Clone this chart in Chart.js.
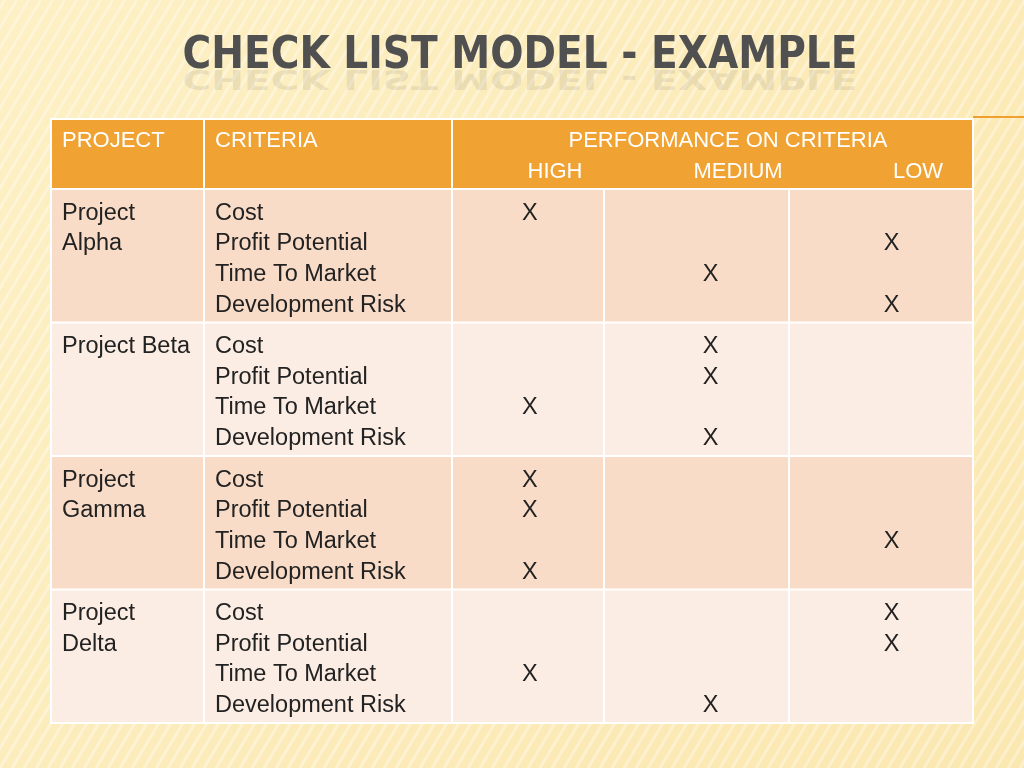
<!DOCTYPE html>
<html><head><meta charset="utf-8">
<script src="https://cdn.jsdelivr.net/npm/chart.js@4/dist/chart.umd.min.js"></script>
<style>html,body{margin:0;padding:0;background:#fdf3d2}canvas{display:block}</style>
</head><body>
<canvas id="c" width="1024" height="768"></canvas>
<script>
const title = "CHECK LIST MODEL - EXAMPLE";
const headers = ["PROJECT", "CRITERIA", "PERFORMANCE ON CRITERIA"];
const levels = ["HIGH", "MEDIUM", "LOW"];
const projects = [["Project", "Alpha"], ["Project Beta"], ["Project", "Gamma"], ["Project", "Delta"]];
const criteria = ["Cost", "Profit Potential", "Time To Market", "Development Risk"];
// performance level index per criterion: 0 HIGH, 1 MEDIUM, 2 LOW
const alpha = [0, 2, 1, 2];
const beta  = [1, 1, 0, 1];
const gamma = [0, 0, 2, 0];
const delta = [2, 2, 0, 1];
const ratings = [alpha, beta, gamma, delta];

const LINE0 = 0.18, LINESTEP = 0.23;
const points = [];
ratings.forEach((r, p) => r.forEach((lv, i) => points.push({x: lv, y: p + LINE0 + LINESTEP * i})));

const FONT = '"Liberation Sans", Arial, sans-serif';
const tablePlugin = {
  id: 'table',
  beforeDraw(chart) {
    const ctx = chart.ctx, W = chart.width, H = chart.height;
    const xs = chart.scales.x, ys = chart.scales.y;
    ctx.save();
    const g = ctx.createLinearGradient(0, 0, W, H);
    g.addColorStop(0, '#fdf0c4'); g.addColorStop(1, '#fbe7b0');
    ctx.fillStyle = g; ctx.fillRect(0, 0, W, H);
    ctx.strokeStyle = 'rgba(255,255,255,0.35)'; ctx.lineWidth = 3;
    for (let k = -H; k < W + H; k += 12) { ctx.beginPath(); ctx.moveTo(k, H); ctx.lineTo(k + H * 0.6, 0); ctx.stroke(); }
    // title, fitted to width
    ctx.font = 'bold 44px "DejaVu Sans Condensed", "Liberation Sans Narrow", sans-serif';
    ctx.textAlign = 'center'; ctx.textBaseline = 'alphabetic';
    const tw = ctx.measureText(title).width, sx = 675 / tw;
    ctx.save(); ctx.translate(520, 68); ctx.scale(sx, 1);
    ctx.fillStyle = '#505050'; ctx.fillText(title, 0, 0);
    ctx.globalAlpha = 0.1; ctx.scale(1, -0.6); ctx.fillText(title, 0, -4);
    ctx.restore();
    ctx.strokeStyle = '#f0a030'; ctx.lineWidth = 2;
    ctx.beginPath(); ctx.moveTo(973, 117); ctx.lineTo(1024, 117); ctx.stroke();

    const L = 51, R = xs.right, top = 119, hb = ys.top, bottom = ys.bottom;
    const colX = [L, 204, xs.left, 604, 789, R];
    ctx.fillStyle = '#f0a232'; ctx.fillRect(L, top, R - L, hb - top);
    for (let p = 0; p < projects.length; p++) {
      const y0 = ys.getPixelForValue(p), y1 = ys.getPixelForValue(p + 1);
      ctx.fillStyle = p % 2 === 0 ? '#f9dcc7' : '#fbede3';
      ctx.fillRect(L, y0, R - L, y1 - y0);
    }
    ctx.strokeStyle = '#ffffff'; ctx.lineWidth = 2;
    ctx.strokeRect(L, top, R - L, bottom - top);
    for (let p = 0; p <= projects.length; p++) {
      const y = ys.getPixelForValue(p);
      ctx.beginPath(); ctx.moveTo(L, y); ctx.lineTo(R, y); ctx.stroke();
    }
    [colX[1], colX[2]].forEach(x => { ctx.beginPath(); ctx.moveTo(x, top); ctx.lineTo(x, bottom); ctx.stroke(); });
    [colX[3], colX[4]].forEach(x => { ctx.beginPath(); ctx.moveTo(x, hb); ctx.lineTo(x, bottom); ctx.stroke(); });
    ctx.fillStyle = '#ffffff'; ctx.font = '22px ' + FONT; ctx.textBaseline = 'middle';
    ctx.textAlign = 'left';
    ctx.fillText(headers[0], 62, 141); ctx.fillText(headers[1], 215, 141);
    ctx.textAlign = 'center';
    ctx.fillText(headers[2], 728, 141);
    ctx.fillText(levels[0], 555, 172); ctx.fillText(levels[1], 738, 172); ctx.fillText(levels[2], 918, 172);
    ctx.fillStyle = '#222222'; ctx.textAlign = 'left'; ctx.font = '23.5px ' + FONT;
    projects.forEach((pl, p) => {
      pl.forEach((t, i) => ctx.fillText(t, 62, ys.getPixelForValue(p + LINE0 + LINESTEP * i)));
      criteria.forEach((t, i) => ctx.fillText(t, 215, ys.getPixelForValue(p + LINE0 + LINESTEP * i)));
    });
    ctx.restore();
  },
  afterDatasetsDraw(chart) {
    const ctx = chart.ctx;
    ctx.save();
    ctx.fillStyle = '#222222'; ctx.font = '23.5px ' + FONT;
    ctx.textAlign = 'center'; ctx.textBaseline = 'middle';
    chart.getDatasetMeta(0).data.forEach(el => ctx.fillText('X', el.x, el.y));
    ctx.restore();
  }
};

new Chart(document.getElementById('c'), {
  type: 'scatter',
  data: { datasets: [{ data: points, pointRadius: 0, pointHoverRadius: 0 }] },
  options: {
    responsive: false, animation: false, devicePixelRatio: 1,
    layout: { padding: { left: 452, right: 51, top: 189, bottom: 45 } },
    plugins: { legend: { display: false }, tooltip: { enabled: false } },
    events: [],
    scales: {
      x: { type: 'linear', min: -0.43, max: 2.45, display: false },
      y: { type: 'linear', min: 0, max: 4, reverse: true, display: false }
    }
  },
  plugins: [tablePlugin]
});
</script>
</body></html>
